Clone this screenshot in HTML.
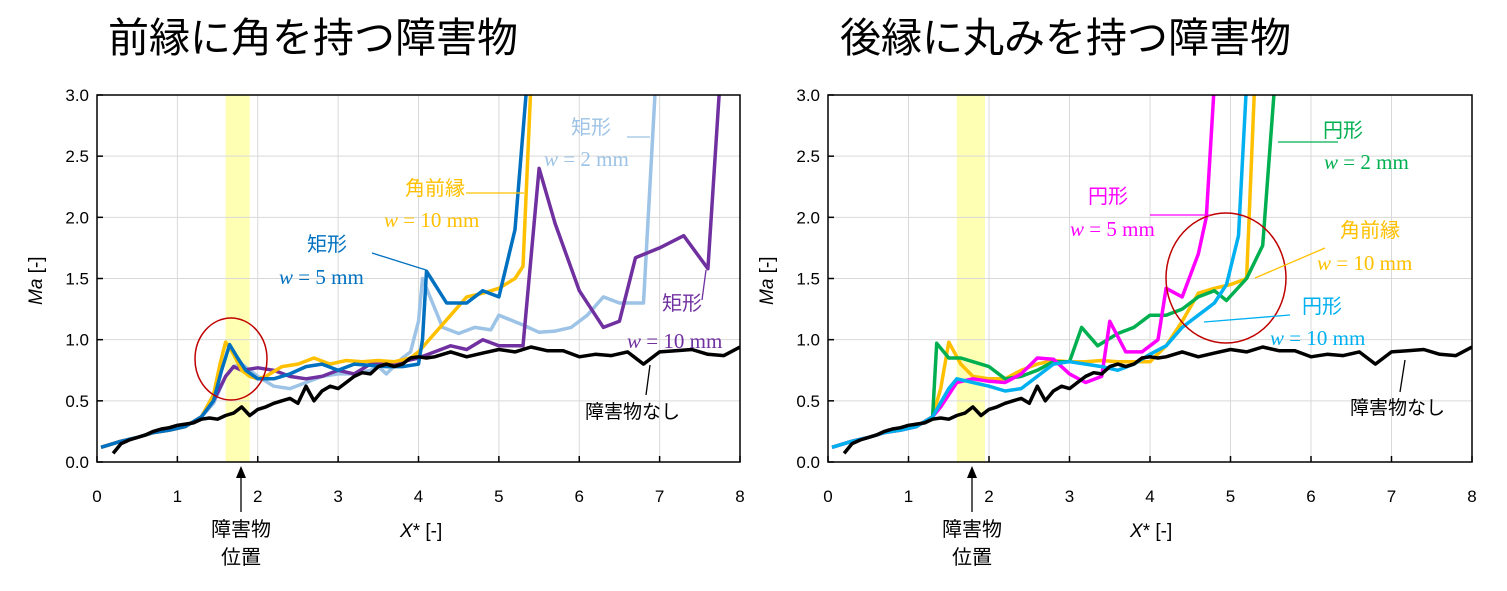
<!DOCTYPE html>
<html><head><meta charset="utf-8">
<style>
body{margin:0;background:#fff;width:1507px;height:591px;overflow:hidden}
svg{display:block}
text{font-family:"Liberation Sans","Noto Sans CJK JP",sans-serif}
.jp{font-family:"Liberation Sans","Noto Sans CJK JP",sans-serif}
.w{font-family:"Liberation Serif","Noto Serif CJK SC",serif}
</style></head><body>
<svg id="c" width="1507" height="591">
<text x="108" y="52" font-size="41">前縁に角を持つ障害物</text>
<text x="840" y="52" font-size="41">後縁に丸みを持つ障害物</text>
</svg>
<script>
// ---- data ----
const xTicks=[0,1,2,3,4,5,6,7,8];
const yTicks=[0,0.5,1.0,1.5,2.0,2.5,3.0];
const yTickLabels=["0.0","0.5","1.0","1.5","2.0","2.5","3.0"];
const noneX=[0.2,0.3,0.4,0.5,0.6,0.7,0.8,0.9,1.0,1.1,1.2,1.3,1.4,1.5,1.6,1.7,1.8,1.9,2.0,2.1,2.2,2.3,2.4,2.5,2.6,2.7,2.8,2.9,3.0,3.1,3.2,3.3,3.4,3.5,3.6,3.7,3.8,3.9,4.0,4.1,4.2,4.4,4.6,4.8,5.0,5.2,5.4,5.6,5.8,6.0,6.2,6.4,6.6,6.8,7.0,7.2,7.4,7.6,7.8,8.0];
const noneY=[0.07,0.15,0.18,0.2,0.22,0.25,0.27,0.28,0.3,0.31,0.32,0.35,0.36,0.35,0.38,0.4,0.45,0.38,0.43,0.45,0.48,0.5,0.52,0.48,0.62,0.5,0.58,0.62,0.6,0.65,0.7,0.73,0.72,0.78,0.8,0.78,0.8,0.85,0.86,0.85,0.86,0.9,0.86,0.89,0.92,0.9,0.94,0.91,0.91,0.86,0.88,0.87,0.9,0.8,0.9,0.91,0.92,0.88,0.87,0.94];
const startX=[0.05,0.3,0.5,0.7,0.9,1.1,1.3];
const startY=[0.12,0.17,0.2,0.24,0.26,0.29,0.37];
const lKadoX=[1.45,1.53,1.6,1.7,1.8,1.9,2.0,2.1,2.3,2.5,2.7,2.9,3.1,3.3,3.5,3.7,3.9,4.0,4.2,4.4,4.6,4.8,5.0,5.2,5.3,5.4];
const lKadoY=[0.55,0.8,0.98,0.88,0.75,0.7,0.68,0.7,0.78,0.8,0.85,0.8,0.83,0.82,0.83,0.82,0.85,0.9,1.05,1.2,1.35,1.38,1.42,1.5,1.6,3.1];
const lR5X=[1.45,1.55,1.65,1.75,1.85,2.0,2.2,2.4,2.6,2.8,3.0,3.2,3.4,3.6,3.8,4.0,4.05,4.1,4.35,4.6,4.8,5.0,5.2,5.35];
const lR5Y=[0.5,0.75,0.96,0.85,0.75,0.68,0.68,0.72,0.78,0.8,0.75,0.8,0.79,0.78,0.78,0.8,1.0,1.56,1.3,1.3,1.4,1.35,1.9,3.1];
const lR2X=[1.45,1.6,1.7,1.8,2.0,2.2,2.4,2.6,2.8,3.0,3.2,3.4,3.5,3.6,3.8,3.9,4.0,4.05,4.3,4.5,4.7,4.9,5.0,5.3,5.5,5.7,5.9,6.1,6.3,6.5,6.8,6.95];
const lR2Y=[0.48,0.7,0.78,0.8,0.7,0.62,0.6,0.65,0.7,0.72,0.72,0.75,0.78,0.72,0.85,0.9,1.15,1.5,1.1,1.05,1.1,1.08,1.2,1.12,1.06,1.07,1.1,1.2,1.35,1.3,1.3,3.1];
const lR10X=[1.45,1.6,1.7,1.8,2.0,2.2,2.4,2.6,2.8,3.0,3.2,3.4,3.6,3.8,4.0,4.2,4.4,4.6,4.8,5.0,5.3,5.5,5.7,6.0,6.3,6.5,6.7,7.0,7.3,7.6,7.75];
const lR10Y=[0.5,0.7,0.78,0.75,0.77,0.75,0.7,0.68,0.7,0.75,0.72,0.8,0.8,0.82,0.85,0.9,0.95,0.92,1.0,0.95,0.95,2.4,1.95,1.4,1.1,1.15,1.67,1.75,1.85,1.58,3.1];
const rC2X=[1.35,1.5,1.65,1.8,2.0,2.2,2.4,2.6,2.8,3.0,3.15,3.35,3.6,3.8,4.0,4.2,4.4,4.6,4.8,4.95,5.2,5.4,5.55];
const rC2Y=[0.97,0.85,0.85,0.82,0.78,0.68,0.7,0.75,0.82,0.82,1.1,0.95,1.05,1.1,1.2,1.2,1.25,1.35,1.4,1.32,1.5,1.77,3.1];
const rKadoX=[1.4,1.5,1.65,1.8,2.0,2.2,2.4,2.6,2.8,3.0,3.2,3.4,3.6,3.8,4.0,4.2,4.4,4.6,4.8,5.0,5.2,5.3];
const rKadoY=[0.6,0.98,0.8,0.7,0.68,0.68,0.75,0.8,0.83,0.82,0.82,0.83,0.82,0.82,0.82,0.95,1.15,1.38,1.42,1.45,1.5,3.1];
const rC5X=[1.4,1.6,1.8,2.0,2.2,2.4,2.6,2.8,3.0,3.2,3.4,3.5,3.7,3.9,4.0,4.1,4.2,4.4,4.6,4.7,4.8];
const rC5Y=[0.45,0.65,0.68,0.66,0.65,0.72,0.85,0.84,0.72,0.65,0.7,1.15,0.9,0.9,0.95,1.0,1.42,1.35,1.7,2.0,3.1];
const rC10X=[1.5,1.6,1.8,2.0,2.2,2.4,2.6,2.8,3.0,3.2,3.4,3.6,3.8,4.0,4.2,4.4,4.6,4.8,4.95,5.1,5.2];
const rC10Y=[0.6,0.68,0.65,0.62,0.58,0.6,0.7,0.8,0.82,0.8,0.78,0.75,0.8,0.88,0.95,1.1,1.2,1.3,1.45,1.85,3.1];

const NS="http://www.w3.org/2000/svg";
const svg=document.getElementById('c');
function mk(tag,attrs,parent){const e=document.createElementNS(NS,tag);for(const k in attrs)e.setAttribute(k,attrs[k]);(parent||svg).appendChild(e);return e;}

function drawChart(x0,x1,pre,band,series,circle){
  const y0=462,y1=95;
  const sx=v=>x0+(x1-x0)*v/8, sy=v=>y0-(y0-y1)*v/3;
  const g=mk('g',{});
  
  
  const cp=mk('clipPath',{id:pre+'clip'},g);mk('rect',{x:x0,y:y1,width:x1-x0,height:y0-y1},cp);
  const bd=mk('rect',{x:sx(band[0]),y:y1,width:sx(band[1])-sx(band[0]),height:y0-y1,fill:'#FFFF99',opacity:0.75},g);
  
  
  xTicks.forEach(t=>{
    if(t>0&&t<8)mk('line',{x1:sx(t),x2:sx(t),y1:y1,y2:y0,stroke:'#d9d9d9','stroke-width':1},g);
    mk('line',{x1:sx(t),x2:sx(t),y1:y0,y2:y0-6,stroke:'#000','stroke-width':1.5},g);
    const tx=mk('text',{x:sx(t),y:y0+40,'font-size':17,'text-anchor':'middle'},g);tx.textContent=t;
    
    
  });
  yTicks.forEach((t,i)=>{
    if(t>0&&t<3)mk('line',{x1:x0,x2:x1,y1:sy(t),y2:sy(t),stroke:'#d9d9d9','stroke-width':1},g);
    mk('line',{x1:x0,x2:x0+6,y1:sy(t),y2:sy(t),stroke:'#000','stroke-width':1.5},g);
    const tx=mk('text',{x:x0-8,y:sy(t)+6,'font-size':17,'text-anchor':'end'},g);tx.textContent=yTickLabels[i];
    
    
  });
  const lg=mk('g',{'clip-path':'url(#'+pre+'clip)'},g);
  series.forEach(s=>{
    const xs=s.x, ys=s.y;
    const pts=xs.map((v,i)=>sx(v).toFixed(1)+','+sy(ys[i]).toFixed(1)).join(' ');
    const p=mk('polyline',{points:pts,fill:'none',stroke:s.c,'stroke-width':3.5,'stroke-linejoin':'round'},lg);
    
    
  });
  mk('rect',{x:x0,y:y1,width:x1-x0,height:y0-y1,fill:'none',stroke:'#000','stroke-width':1.5},g);
  const ci=mk('ellipse',{cx:circle[0],cy:circle[1],rx:circle[2],ry:circle[3],fill:'none',stroke:'#C00000','stroke-width':1.5},g);
  
  
}
function withStart(x,y){return {x:startX.concat(x),y:startY.concat(y)};}
function S(n,c,d){return {n:n,c:c,x:d.x,y:d.y};}
drawChart(97,740,'left',[1.6,1.9],[
  S('series-rect-2mm','#9DC3E6',withStart(lR2X,lR2Y)),
  S('series-rect-10mm','#7030A0',withStart(lR10X,lR10Y)),
  S('series-kado-10mm','#FFC000',withStart(lKadoX,lKadoY)),
  S('series-rect-5mm','#0070C0',withStart(lR5X,lR5Y)),
  S('series-none','#000',{x:noneX,y:noneY})
],[231,359,36,41]);
drawChart(828,1472,'right',[1.6,1.95],[
  S('series-kado-10mm','#FFC000',withStart(rKadoX,rKadoY)),
  S('series-circle-2mm','#00B050',withStart(rC2X,rC2Y)),
  S('series-circle-5mm','#FF00FF',withStart(rC5X,rC5Y)),
  S('series-circle-10mm','#00B0F0',withStart(rC10X,rC10Y)),
  S('series-none','#000',{x:noneX,y:noneY})
],[1226,278,60,65]);

function label(x,y,t,c,size,name,cls){const e=mk('text',{x:x,y:y,fill:c,'font-size':size||20});if(cls)e.setAttribute('class',cls);e.innerHTML=t;
  
  return e;}
function ln(a,b,c,d,col){mk('line',{x1:a,y1:b,x2:c,y2:d,stroke:col,'stroke-width':1.3});}
const W=(n)=>'<tspan font-style="italic">w</tspan> = '+n+' mm';
[[400,'left'],[1130,'right']].forEach(([x,p])=>{label(x,537,'<tspan font-style="italic">X</tspan>* [-]','#000',19,p+'-x-axis-title');});
[[42,'left'],[773,'right']].forEach(([x,p])=>{const e=label(0,0,'<tspan font-style="italic">Ma</tspan> [-]','#000',19,p+'-y-axis-title');e.setAttribute('transform','translate('+x+',305) rotate(-90)');});
[[241,'left'],[972,'right']].forEach(([x,p])=>{
  ln(x,512,x,472,'#000');mk('path',{d:'M'+(x-5)+',478 L'+x+',466 L'+(x+5)+',478 Z',fill:'#000'});
  const a=label(x,536,'障害物','#000',20,p+'-obstacle-label','jp');a.setAttribute('text-anchor','middle');
  const b=label(x,564,'位置','#000',20,p+'-obstacle-label-2','jp');b.setAttribute('text-anchor','middle');
});
label(571,134,'矩形','#9DC3E6',20,'label-rect-2mm');label(544,166,W(2),'#9DC3E6',21,'label-rect-2mm-w','w');ln(627,137,650,137,'#9DC3E6');
label(405,195,'角前縁','#FFC000',20,'label-kado-10mm');label(384,227,W(10),'#FFC000',21,'label-kado-10mm-w','w');ln(466,193,524,193,'#FFC000');
label(307,251,'矩形','#0070C0',20,'label-rect-5mm');label(279,284,W(5),'#0070C0',21,'label-rect-5mm-w','w');ln(372,253,426,270,'#0070C0');
label(662,310,'矩形','#7030A0',20,'label-rect-10mm');label(627,348,W(10),'#7030A0',21,'label-rect-10mm-w','w');ln(702,300,706,270,'#7030A0');
label(585,418,'障害物なし','#000',19,'label-none-left');ln(646,395,650,365,'#000');
label(1323,137,'円形','#00B050',20,'label-circle-2mm');label(1324,169,W(2),'#00B050',21,'label-circle-2mm-w','w');ln(1278,142,1338,142,'#00B050');
label(1088,203,'円形','#FF00FF',20,'label-circle-5mm');label(1070,236,W(5),'#FF00FF',21,'label-circle-5mm-w','w');ln(1150,215,1210,215,'#FF00FF');
label(1340,237,'角前縁','#FFC000',20,'label-kado-10mm-r');label(1317,270,W(10),'#FFC000',21,'label-kado-10mm-r-w','w');ln(1255,278,1325,248,'#FFC000');
label(1302,313,'円形','#00B0F0',20,'label-circle-10mm');label(1270,345,W(10),'#00B0F0',21,'label-circle-10mm-w','w');ln(1204,322,1290,315,'#00B0F0');
label(1350,414,'障害物なし','#000',19,'label-none-right');ln(1400,392,1405,360,'#000');
</script>
</body></html>
